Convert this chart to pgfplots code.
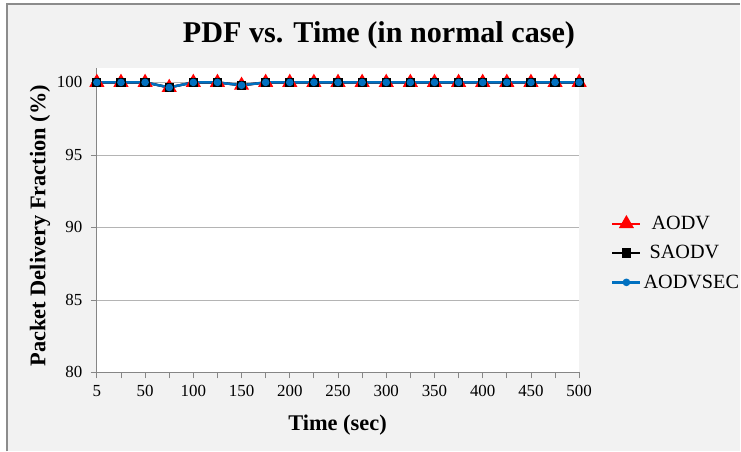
\documentclass[border=0pt]{standalone}
\usepackage{pgfplots}
\pgfplotsset{compat=1.18}
\usepackage{pgfplotstable}
\usepackage{fontspec}
\setmainfont{Liberation Serif}
\definecolor{bgc}{RGB}{242,242,242}
\definecolor{bord}{RGB}{140,140,140}
\definecolor{gridc}{RGB}{180,180,180}
\definecolor{axc}{RGB}{134,134,134}
\definecolor{xblue}{RGB}{0,112,192}
\pgfplotstableread{
x y
0 100
1 100
2 100
3 99.65
4 100
5 100
6 99.8
7 100
8 100
9 100
10 100
11 100
12 100
13 100
14 100
15 100
16 100
17 100
18 100
19 100
20 100
}\aodv
\pgfplotstableread{
x y
0 100
1 100
2 100
3 99.65
4 100
5 100
6 99.8
7 100
8 100
9 100
10 100
11 100
12 100
13 100
14 100
15 100
16 100
17 100
18 100
19 100
20 100
}\saodv
\pgfplotstableread{
x y
0 100
1 100
2 100
3 99.65
4 100
5 100
6 99.8
7 100
8 100
9 100
10 100
11 100
12 100
13 100
14 100
15 100
16 100
17 100
18 100
19 100
20 100
}\aodvsec
\begin{document}
\begin{tikzpicture}[x=1bp,y=1bp]
\fill[white] (0,0) rectangle (741,452);
\fill[bgc] (7,0) rectangle (741,448);
\draw[bord, line width=1.2bp] (7,0) -- (7,448) -- (741,448);
\node[anchor=base, font=\bfseries\fontsize{30.3}{36}\selectfont, inner sep=0pt] at (379.5,409) {PDF vs. Time (in normal case)};
\begin{axis}[
  at={(97bp,79bp)}, anchor=south west, scale only axis,
  width=483bp, height=305bp,
  xmin=0, xmax=20, ymin=80, ymax=101,
  clip=false,
  axis background/.style={fill=white},
  axis x line=bottom, axis y line=left,
  axis line style={draw=axc, line width=0.8bp, -},
  xtick={0,2,...,20}, xticklabels={5,50,100,150,200,250,300,350,400,450,500},
  minor xtick={1,3,...,19},
  ytick={80,85,...,100},
  ymajorgrids, grid style={draw=gridc, line width=0.8bp},
  tick align=outside,
  major tick length=6bp, minor tick length=6bp,
  every tick/.style={draw=axc, line width=0.8bp},
  minor tick style={draw=axc, line width=0.8bp},
  ticklabel style={font=\fontsize{17}{19}\selectfont},
  xticklabel style={yshift=-3bp},
  yticklabel style={xshift=-5bp},
  /pgf/number format/assume math mode=true,
  xlabel={Time (sec)},
  xlabel style={at={(axis description cs:0.499,-0.192)}, anchor=base, font=\fontsize{22.5}{27}\selectfont\bfseries},
  ylabel={Packet Delivery Fraction (\%)},
  ylabel style={at={(axis description cs:-0.118,0.482)}, anchor=center, font=\fontsize{22.5}{27}\selectfont\bfseries},
  legend style={at={(axis description cs:1.066,0.520)}, anchor=north west, draw=none, fill=none, inner sep=0pt, font=\fontsize{20.3}{24}\selectfont, row sep=10.5bp},
  legend cell align=left,
  legend image code/.code={\draw[mark repeat=2,mark phase=2,#1] plot coordinates {(0bp,0bp)(14bp,0bp)(28bp,0bp)};},
]
\addplot[color=red, line width=2.25bp, mark=triangle*, mark size=6.5bp, mark options={solid, fill=red}] table[x=x,y=y] {\aodv};
\addlegendentry{\hspace{8bp}AODV}
\addplot[color=black, line width=2.25bp, mark=square*, mark size=3.5bp, mark options={solid, fill=black}] table[x=x,y=y] {\saodv};
\addlegendentry{\hspace{6bp}SAODV}
\addplot[color=xblue, line width=2.5bp, mark=*, mark size=2.5bp, mark options={solid, fill=xblue}] table[x=x,y=y] {\aodvsec};
\addlegendentry{AODVSEC}
\end{axis}
\end{tikzpicture}
\end{document}
